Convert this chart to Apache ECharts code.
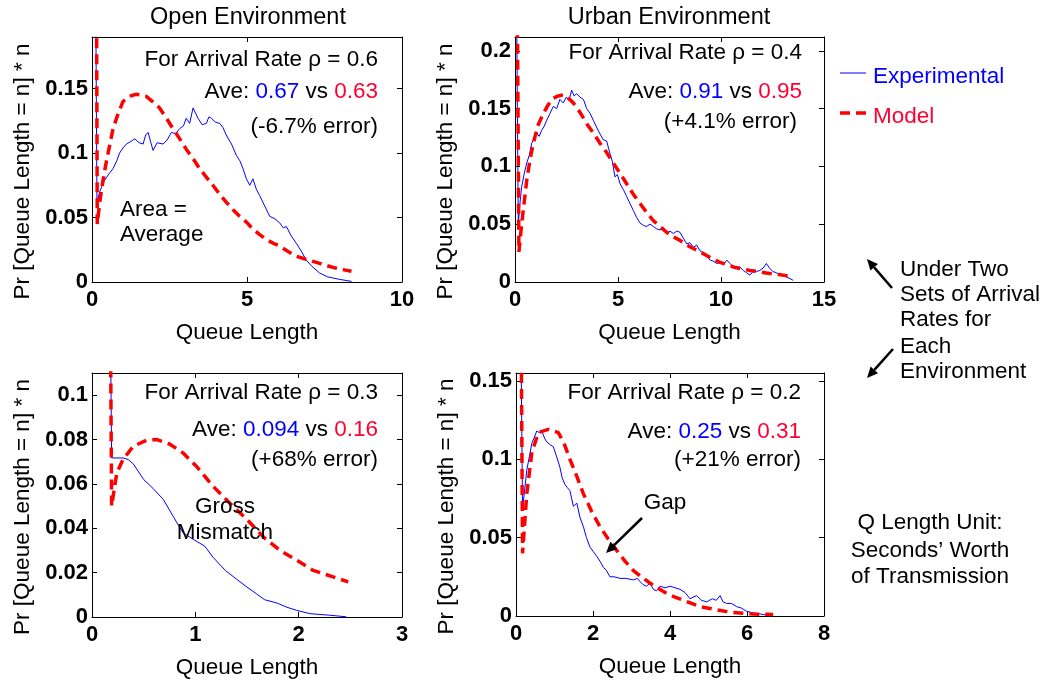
<!DOCTYPE html>
<html>
<head>
<meta charset="utf-8">
<script src="https://cdn.jsdelivr.net/npm/echarts@6/dist/echarts.min.js"></script>
<style>
  html, body { margin: 0; padding: 0; background: #fff; }
  #chart { width: 1045px; height: 681px; }
</style>
</head>
<body>
<div id="chart"></div>
<script>
const FONT = '"Liberation Sans", Arial, sans-serif';
const BLUE = '#0000ff';
const RED = '#ff0000';
const RED_TEXT = '#ff0033';

// open environment, rho = 0.6
const openHiExpQ = [0.10, 0.16, 0.25, 0.33, 0.41, 0.52, 0.68, 0.80, 0.89, 1.00, 1.11, 1.25, 1.38, 1.52, 1.65, 1.73, 1.81, 1.90, 1.97, 2.10, 2.29, 2.42, 2.56, 2.70, 2.83, 2.95, 3.04, 3.15, 3.26, 3.34, 3.42, 3.55, 3.69, 3.77, 3.85, 3.98, 4.12, 4.22, 4.33, 4.50, 4.66, 4.77, 4.87, 4.98, 5.09, 5.19, 5.30, 5.41, 5.57, 5.73, 5.90, 6.05, 6.17, 6.27, 6.42, 6.59, 6.75, 6.91, 7.10, 7.34, 7.60, 7.99, 8.37];
const openHiExpP = [0.30, 0.062, 0.070, 0.075, 0.079, 0.083, 0.088, 0.094, 0.100, 0.104, 0.107, 0.109, 0.111, 0.108, 0.107, 0.114, 0.116, 0.108, 0.102, 0.108, 0.107, 0.110, 0.116, 0.115, 0.119, 0.121, 0.127, 0.123, 0.135, 0.131, 0.127, 0.122, 0.123, 0.128, 0.127, 0.124, 0.123, 0.120, 0.114, 0.107, 0.098, 0.094, 0.088, 0.080, 0.075, 0.080, 0.072, 0.067, 0.059, 0.051, 0.049, 0.046, 0.042, 0.043, 0.036, 0.030, 0.024, 0.017, 0.012, 0.007, 0.004, 0.002, 0.0005];
const openHiModelQ = [0.12, 0.17, 0.25, 0.35, 0.46, 0.57, 0.68, 0.85, 1.00, 1.20, 1.43, 1.75, 2.00, 2.18, 2.40, 2.61, 2.83, 3.04, 3.25, 3.47, 3.70, 3.90, 4.12, 4.33, 4.55, 4.76, 5.00, 5.19, 5.40, 5.62, 5.85, 6.05, 6.30, 6.59, 6.85, 7.13, 7.40, 7.67, 8.00, 8.37];
const openHiModelP = [0.40, 0.045, 0.062, 0.078, 0.093, 0.106, 0.119, 0.131, 0.140, 0.144, 0.1456, 0.144, 0.139, 0.135, 0.127, 0.119, 0.111, 0.103, 0.096, 0.088, 0.081, 0.075, 0.068, 0.062, 0.056, 0.051, 0.046, 0.041, 0.037, 0.033, 0.030, 0.028, 0.024, 0.020, 0.018, 0.016, 0.014, 0.012, 0.010, 0.0083];

// urban environment, rho = 0.4
const urbanHiExpQ = [0.05, 0.16, 0.24, 0.32, 0.45, 0.57, 0.70, 0.81, 0.93, 1.05, 1.17, 1.29, 1.42, 1.54, 1.70, 1.86, 2.02, 2.18, 2.34, 2.50, 2.62, 2.75, 2.87, 2.99, 3.15, 3.32, 3.48, 3.64, 3.80, 3.96, 4.13, 4.29, 4.45, 4.61, 4.73, 4.85, 4.97, 5.10, 5.26, 5.42, 5.58, 5.74, 5.90, 6.07, 6.23, 6.39, 6.55, 6.72, 6.88, 7.04, 7.20, 7.36, 7.52, 7.69, 7.85, 8.01, 8.17, 8.33, 8.50, 8.66, 8.82, 8.98, 9.15, 9.31, 9.47, 9.63, 9.79, 9.95, 10.12, 10.28, 10.44, 10.60, 10.76, 10.92, 11.08, 11.24, 11.40, 11.56, 11.72, 11.88, 12.04, 12.20, 12.36, 12.52, 12.70, 12.85, 13.00, 13.20, 13.35, 13.50];
const urbanHiExpP = [0.30, 0.050, 0.068, 0.082, 0.094, 0.103, 0.110, 0.120, 0.124, 0.129, 0.126, 0.131, 0.135, 0.140, 0.146, 0.152, 0.150, 0.158, 0.155, 0.160, 0.157, 0.166, 0.161, 0.163, 0.160, 0.158, 0.150, 0.146, 0.140, 0.134, 0.128, 0.123, 0.122, 0.111, 0.104, 0.091, 0.093, 0.085, 0.080, 0.074, 0.068, 0.062, 0.056, 0.051, 0.049, 0.048, 0.050, 0.048, 0.046, 0.045, 0.047, 0.042, 0.044, 0.042, 0.044, 0.043, 0.038, 0.033, 0.034, 0.030, 0.032, 0.027, 0.025, 0.022, 0.019, 0.018, 0.016, 0.017, 0.015, 0.019, 0.016, 0.013, 0.012, 0.013, 0.010, 0.008, 0.006, 0.009, 0.009, 0.010, 0.012, 0.016, 0.012, 0.009, 0.008, 0.006, 0.006, 0.004, 0.003, 0.0014];
const urbanHiModelQ = [0.05, 0.19, 0.30, 0.40, 0.57, 0.73, 0.89, 1.10, 1.38, 1.60, 1.86, 2.10, 2.35, 2.60, 2.83, 3.15, 3.48, 3.80, 4.13, 4.45, 4.77, 5.10, 5.42, 5.74, 6.07, 6.40, 6.72, 7.04, 7.36, 7.70, 8.01, 8.33, 8.66, 9.00, 9.30, 9.60, 9.95, 10.30, 10.60, 11.00, 11.40, 11.80, 12.20, 12.80, 13.35];
const urbanHiModelP = [0.40, 0.026, 0.046, 0.062, 0.088, 0.106, 0.120, 0.135, 0.146, 0.153, 0.159, 0.161, 0.162, 0.159, 0.155, 0.147, 0.137, 0.129, 0.120, 0.112, 0.103, 0.094, 0.085, 0.076, 0.068, 0.060, 0.053, 0.048, 0.043, 0.039, 0.036, 0.032, 0.029, 0.026, 0.023, 0.020, 0.017, 0.015, 0.013, 0.0115, 0.010, 0.009, 0.0078, 0.0065, 0.005];

// open environment, rho = 0.3
const openLoExpQ = [0.165, 0.19, 0.30, 0.35, 0.40, 0.50, 0.59, 0.69, 0.79, 0.88, 0.98, 1.09, 1.17, 1.29, 1.40, 1.50, 1.59, 1.67, 1.79, 1.88, 1.98, 2.11, 2.30, 2.46];
const openLoExpP = [0.20, 0.0717, 0.0717, 0.071, 0.069, 0.062, 0.058, 0.053, 0.045, 0.038, 0.035, 0.032, 0.027, 0.021, 0.017, 0.0135, 0.0105, 0.0078, 0.0063, 0.0045, 0.003, 0.0015, 0.0008, 0.0001];
const openLoModelQ = [0.155, 0.19, 0.24, 0.30, 0.40, 0.53, 0.63, 0.75, 0.88, 1.01, 1.17, 1.34, 1.50, 1.66, 1.82, 1.98, 2.14, 2.34, 2.48];
const openLoModelP = [0.30, 0.050, 0.065, 0.071, 0.077, 0.0797, 0.080, 0.078, 0.074, 0.068, 0.059, 0.051, 0.044, 0.036, 0.030, 0.0256, 0.021, 0.018, 0.0158];

// urban environment, rho = 0.2
const urbanLoExpQ = [0.08, 0.17, 0.28, 0.41, 0.54, 0.60, 0.67, 0.75, 0.80, 0.90, 0.97, 1.05, 1.14, 1.20, 1.27, 1.33, 1.40, 1.49, 1.58, 1.66, 1.75, 1.83, 1.92, 2.01, 2.10, 2.18, 2.27, 2.35, 2.44, 2.55, 2.70, 2.85, 3.05, 3.15, 3.22, 3.30, 3.39, 3.48, 3.57, 3.65, 3.74, 3.87, 4.00, 4.13, 4.26, 4.39, 4.52, 4.60, 4.69, 4.82, 4.95, 5.10, 5.20, 5.30, 5.38, 5.47, 5.60, 5.73, 5.86, 5.99, 6.15, 6.34, 6.50, 6.68];
const urbanLoExpP = [0.30, 0.068, 0.093, 0.110, 0.118, 0.117, 0.118, 0.113, 0.111, 0.109, 0.108, 0.102, 0.095, 0.088, 0.084, 0.082, 0.080, 0.070, 0.072, 0.063, 0.057, 0.050, 0.044, 0.041, 0.038, 0.035, 0.031, 0.029, 0.025, 0.025, 0.024, 0.024, 0.023, 0.024, 0.022, 0.020, 0.019, 0.021, 0.017, 0.016, 0.019, 0.018, 0.019, 0.018, 0.017, 0.015, 0.011, 0.012, 0.013, 0.010, 0.009, 0.011, 0.010, 0.013, 0.009, 0.008, 0.008, 0.006, 0.005, 0.003, 0.002, 0.0013, 0.0006, 0];
const urbanLoModelQ = [0.08, 0.17, 0.28, 0.41, 0.58, 0.84, 1.10, 1.25, 1.40, 1.58, 1.75, 1.96, 2.18, 2.40, 2.61, 2.83, 3.05, 3.26, 3.48, 3.70, 3.91, 4.13, 4.35, 4.56, 4.78, 5.00, 5.21, 5.43, 5.64, 5.90, 6.16, 6.40, 6.68];
const urbanLoModelP = [0.40, 0.040, 0.078, 0.104, 0.117, 0.119, 0.117, 0.110, 0.100, 0.089, 0.078, 0.067, 0.057, 0.049, 0.042, 0.035, 0.029, 0.025, 0.021, 0.0175, 0.0145, 0.012, 0.010, 0.008, 0.006, 0.005, 0.004, 0.003, 0.0023, 0.0018, 0.0013, 0.0011, 0.001];

const panels = [
  { grid: { left: 92, top: 37, width: 310, height: 245 }, xMax: 10, xInt: 5, yMax: 0.19, yInt: 0.05,
    exp: [openHiExpQ, openHiExpP], model: [openHiModelQ, openHiModelP] },
  { grid: { left: 515, top: 37, width: 309, height: 245 }, xMax: 15, xInt: 5, yMax: 0.212, yInt: 0.05,
    exp: [urbanHiExpQ, urbanHiExpP], model: [urbanHiModelQ, urbanHiModelP] },
  { grid: { left: 92, top: 373, width: 310, height: 244 }, xMax: 3, xInt: 1, yMax: 0.11, yInt: 0.02,
    exp: [openLoExpQ, openLoExpP], model: [openLoModelQ, openLoModelP] },
  { grid: { left: 516, top: 373, width: 308, height: 243 }, xMax: 8, xInt: 2, yMax: 0.155, yInt: 0.05,
    exp: [urbanLoExpQ, urbanLoExpP], model: [urbanLoModelQ, urbanLoModelP] }
];

const zip = (q, p) => q.map((v, i) => [v, p[i]]);
const onTick = (v, step) => Math.abs(v / step - Math.round(v / step)) < 1e-6;

const axisLine = { show: true, onZero: false, lineStyle: { color: '#000', width: 1 } };
const axisTick = { show: true, inside: true, length: 5, lineStyle: { color: '#000' } };
const tickFont = { color: '#000', fontFamily: FONT, fontSize: 22, fontWeight: 'bold' };
const nameFont = { color: '#000', fontFamily: FONT, fontSize: 22.5 };

const xAxis = [], yAxis = [], series = [];
panels.forEach((p, i) => {
  const base = { gridIndex: i, type: 'value', min: 0, splitLine: { show: false }, axisLine, axisTick };
  xAxis.push(Object.assign({}, base, {
    position: 'bottom', max: p.xMax, interval: p.xInt,
    name: 'Queue Length', nameLocation: 'middle', nameGap: 39, nameTextStyle: nameFont,
    axisLabel: Object.assign({ margin: 7 }, tickFont)
  }));
  xAxis.push(Object.assign({}, base, {
    position: 'top', max: p.xMax, interval: p.xInt, axisLabel: { show: false }
  }));
  yAxis.push(Object.assign({}, base, {
    position: 'left', max: p.yMax, interval: p.yInt,
    name: 'Pr [Queue Length = n] * n', nameLocation: 'middle', nameGap: 58,
    nameTextStyle: Object.assign({ padding: [0, 24, 0, 0] }, nameFont),
    axisLabel: Object.assign({ margin: 4, formatter: v => onTick(v, p.yInt) ? String(+v.toFixed(3)) : '' }, tickFont)
  }));
  yAxis.push(Object.assign({}, base, {
    position: 'right', max: p.yMax, interval: p.yInt, axisLabel: { show: false }
  }));
  series.push({
    name: 'Experimental', type: 'line', xAxisIndex: 2 * i, yAxisIndex: 2 * i,
    data: zip(p.exp[0], p.exp[1]), showSymbol: false, symbol: 'none', clip: true,
    lineStyle: { color: BLUE, width: 1 }, z: 3
  });
  series.push({
    name: 'Model', type: 'line', xAxisIndex: 2 * i, yAxisIndex: 2 * i,
    data: zip(p.model[0], p.model[1]), showSymbol: false, symbol: 'none', clip: true,
    lineStyle: { color: RED, width: 3.5, type: [10, 6], cap: 'butt' }, z: 4
  });
});

// annotation helpers
const TXT = '22.5px ' + FONT;
function txt(x, y, text, align, extra) {
  return {
    type: 'text', x, y, z: 10,
    style: Object.assign({ text, font: TXT, fill: '#000', align: align || 'left', verticalAlign: 'middle' }, extra || {})
  };
}
function ave(x, y, a, b) {
  return txt(x, y, '{k|Ave: }{b|' + a + '}{k| vs }{r|' + b + '}', 'right', {
    rich: {
      k: { fill: '#000', font: TXT },
      b: { fill: BLUE, font: TXT },
      r: { fill: RED_TEXT, font: TXT }
    }
  });
}
function arrow(x1, y1, x2, y2) {
  const a = Math.atan2(y2 - y1, x2 - x1), L = 11, W = 5;
  const bx = x2 - L * Math.cos(a), by = y2 - L * Math.sin(a);
  const nx = -Math.sin(a), ny = Math.cos(a);
  return [
    { type: 'line', z: 10, shape: { x1, y1, x2: bx, y2: by }, style: { stroke: '#000', lineWidth: 2.5 } },
    { type: 'polygon', z: 10, shape: { points: [[x2, y2], [bx + nx * W, by + ny * W], [bx - nx * W, by - ny * W]] }, style: { fill: '#000' } }
  ];
}

const graphic = [
  txt(248, 18, 'Open Environment', 'center', { font: '23.5px ' + FONT }),
  txt(669, 18, 'Urban Environment', 'center', { font: '23.5px ' + FONT }),

  txt(378, 60, 'For Arrival Rate ρ = 0.6', 'right'),
  ave(378, 92, '0.67', '0.63'),
  txt(378, 127, '(-6.7% error)', 'right'),
  txt(120, 210, 'Area =', 'left'),
  txt(120, 235, 'Average', 'left'),

  txt(802, 53, 'For Arrival Rate ρ = 0.4', 'right'),
  ave(802, 92, '0.91', '0.95'),
  txt(797, 122, '(+4.1% error)', 'right'),

  txt(378, 393, 'For Arrival Rate ρ = 0.3', 'right'),
  ave(378, 430, '0.094', '0.16'),
  txt(378, 460, '(+68% error)', 'right'),
  txt(225, 507, 'Gross', 'center'),
  txt(225, 533, 'Mismatch', 'center'),

  txt(801, 393, 'For Arrival Rate ρ = 0.2', 'right'),
  ave(801, 432, '0.25', '0.31'),
  txt(801, 460, '(+21% error)', 'right'),
  txt(665, 503, 'Gap', 'center'),
  ...arrow(642, 518, 606, 553),

  // legend
  { type: 'line', shape: { x1: 840, y1: 73, x2: 866, y2: 73 }, style: { stroke: BLUE, lineWidth: 1 } },
  txt(873, 77, 'Experimental', 'left', { fill: BLUE }),
  { type: 'line', shape: { x1: 840, y1: 113, x2: 866, y2: 113 }, style: { stroke: RED, lineWidth: 3.5, lineDash: [10, 6] } },
  txt(873, 117, 'Model', 'left', { fill: RED_TEXT }),

  txt(900, 270, 'Under Two', 'left'),
  txt(900, 295, 'Sets of Arrival', 'left'),
  txt(900, 320, 'Rates for', 'left'),
  txt(900, 347, 'Each', 'left'),
  txt(900, 372, 'Environment', 'left'),
  ...arrow(892, 288, 867, 259),
  ...arrow(893, 349, 867, 378),

  txt(930, 523, 'Q Length Unit:', 'center'),
  txt(930, 551, 'Seconds’ Worth', 'center'),
  txt(930, 577, 'of Transmission', 'center')
];

const chart = echarts.init(document.getElementById('chart'));
chart.setOption({
  animation: false,
  backgroundColor: '#fff',
  grid: panels.map(p => Object.assign({ containLabel: false }, p.grid)),
  xAxis, yAxis, series, graphic
});
</script>
</body>
</html>
